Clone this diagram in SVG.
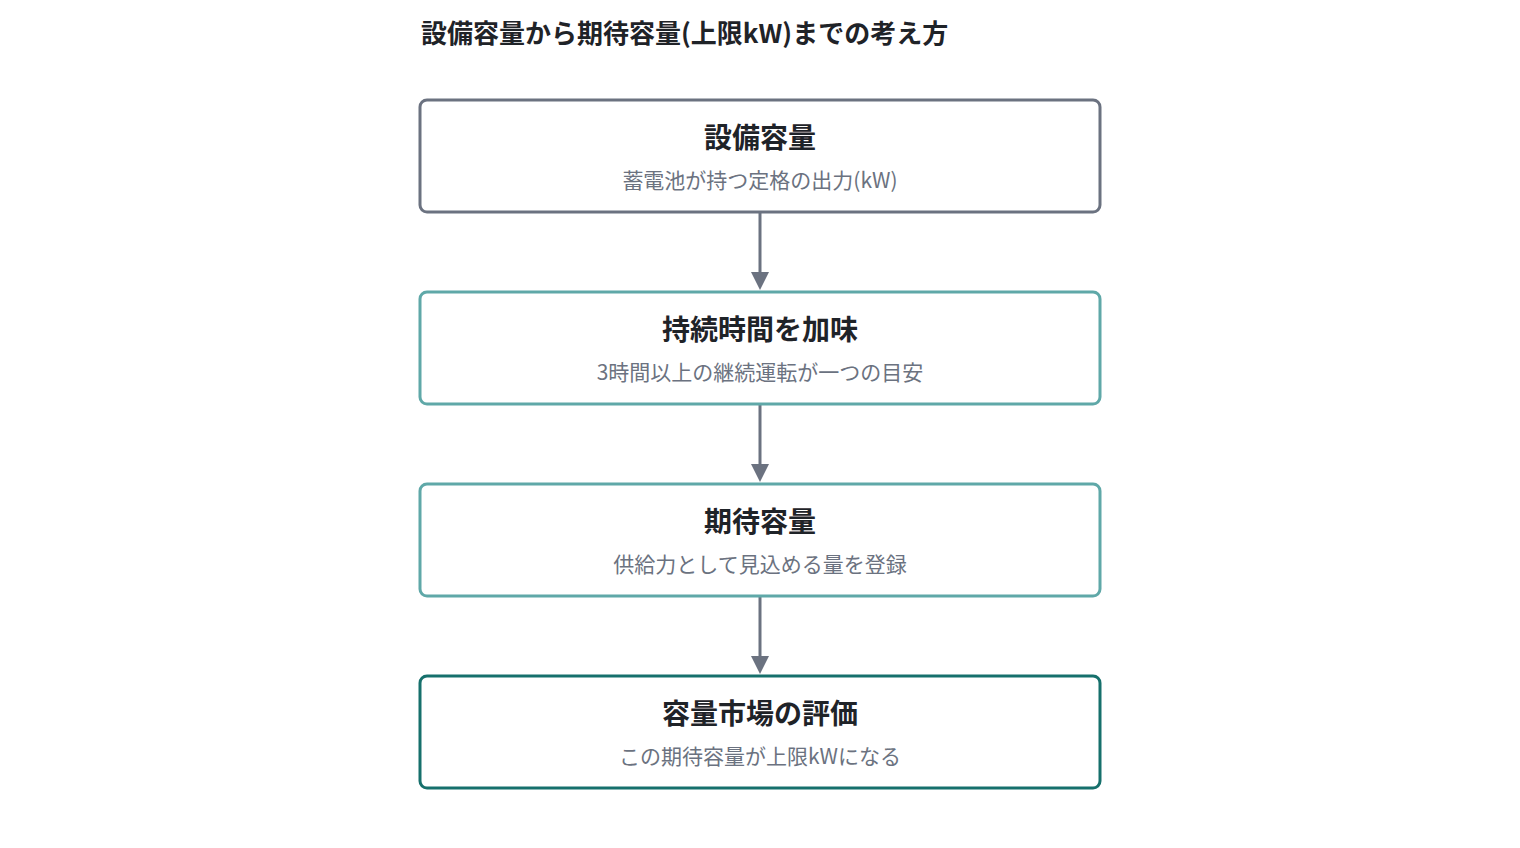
<svg xmlns="http://www.w3.org/2000/svg" width="1520" height="848" viewBox="0 0 1520 848">
<style>
text{font-family:"Noto Sans CJK JP","Noto Sans",sans-serif}
.title{font-size:26px;font-weight:700;fill:#1f2328}
.nt{font-size:28px;font-weight:700;fill:#1f2328;text-anchor:middle}
.ns{font-size:21px;fill:#6b7280;text-anchor:middle}
.box{fill:#fff;stroke-width:3}
.edge{stroke:#6b7280;stroke-width:3;fill:none}
</style>
<rect width="1520" height="848" fill="#fff"/>
<text class="title" x="421" y="43">設備容量から期待容量(上限kW)までの考え方</text>
<g id="connectors">
<line class="edge" x1="760" y1="213" x2="760" y2="272"/>
<path d="M751,272 L769,272 L760,290 z" fill="#6b7280"/>
<line class="edge" x1="760" y1="405" x2="760" y2="464"/>
<path d="M751,464 L769,464 L760,482 z" fill="#6b7280"/>
<line class="edge" x1="760" y1="597" x2="760" y2="656"/>
<path d="M751,656 L769,656 L760,674 z" fill="#6b7280"/>
</g>
<g id="n1">
<rect class="box" x="420" y="100" width="680" height="112" rx="7" stroke="#6b7280"/>
<text class="nt" x="760" y="148">設備容量</text>
<text class="ns" x="760" y="188">蓄電池が持つ定格の出力(kW)</text>
</g>
<g id="n2">
<rect class="box" x="420" y="292" width="680" height="112" rx="7" stroke="#5fa8a8"/>
<text class="nt" x="760" y="340">持続時間を加味</text>
<text class="ns" x="760" y="380">3時間以上の継続運転が一つの目安</text>
</g>
<g id="n3">
<rect class="box" x="420" y="484" width="680" height="112" rx="7" stroke="#5fa8a8"/>
<text class="nt" x="760" y="532">期待容量</text>
<text class="ns" x="760" y="572">供給力として見込める量を登録</text>
</g>
<g id="n4">
<rect class="box" x="420" y="676" width="680" height="112" rx="7" stroke="#16706c"/>
<text class="nt" x="760" y="724">容量市場の評価</text>
<text class="ns" x="760" y="764">この期待容量が上限kWになる</text>
</g>
</svg>
